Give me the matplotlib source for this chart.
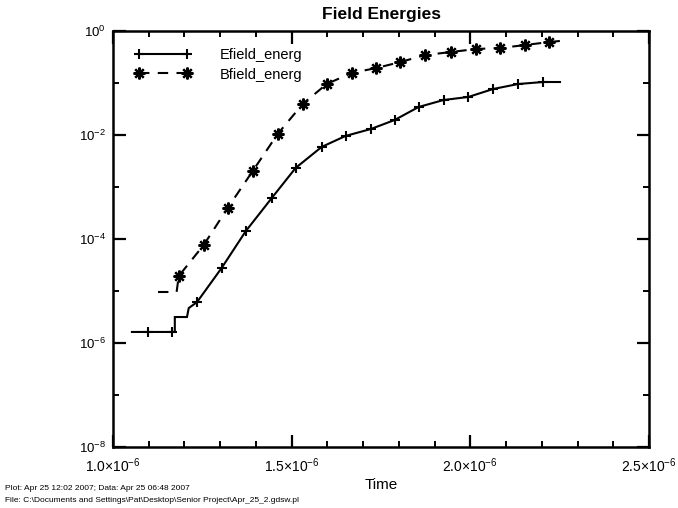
import matplotlib
matplotlib.use("Agg")
import matplotlib.pyplot as plt
from matplotlib.ticker import FixedLocator, NullFormatter
from matplotlib.lines import Line2D
import numpy as np

plt.rcParams['font.family'] = ['Liberation Sans', 'DejaVu Sans']
plt.rcParams['mathtext.default'] = 'regular'

# Efield energy: line vertices (time, energy)
e_line_t = [1.053e-6, 1.173e-6, 1.173e-6, 1.207e-6, 1.212e-6, 1.235e-6, 1.304e-6, 1.372e-6,
            1.444e-6, 1.511e-6, 1.584e-6, 1.651e-6, 1.721e-6, 1.788e-6, 1.855e-6, 1.925e-6,
            1.994e-6, 2.064e-6, 2.134e-6, 2.204e-6, 2.251e-6]
e_line_v = [1.63e-6, 1.63e-6, 3.16e-6, 3.16e-6, 4.7e-6, 6.1e-6, 2.77e-5, 1.43e-4,
            6.1e-4, 2.32e-3, 5.9e-3, 9.6e-3, 1.30e-2, 1.94e-2, 3.45e-2, 4.71e-2,
            5.38e-2, 7.67e-2, 9.57e-2, 0.1045, 0.1045]
# Efield symbols
e_sym_t = [1.098e-6, 1.165e-6, 1.235e-6, 1.304e-6, 1.372e-6, 1.444e-6, 1.511e-6, 1.584e-6,
           1.651e-6, 1.721e-6, 1.788e-6, 1.855e-6, 1.925e-6, 1.994e-6, 2.064e-6, 2.134e-6,
           2.204e-6]
e_sym_v = [1.63e-6, 1.63e-6, 6.1e-6, 2.77e-5, 1.43e-4, 6.1e-4, 2.32e-3, 5.9e-3,
           9.6e-3, 1.30e-2, 1.94e-2, 3.45e-2, 4.71e-2, 5.38e-2, 7.67e-2, 9.57e-2,
           0.1045]

# Bfield energy
b_line_t = [1.126e-6, 1.178e-6, 1.184e-6, 1.254e-6, 1.321e-6, 1.391e-6, 1.461e-6, 1.531e-6,
            1.598e-6, 1.668e-6, 1.737e-6, 1.804e-6, 1.874e-6, 1.947e-6, 2.017e-6, 2.084e-6,
            2.154e-6, 2.221e-6, 2.251e-6]
b_line_v = [9.57e-6, 9.57e-6, 1.94e-5, 7.7e-5, 3.95e-4, 2.03e-3, 1.05e-2, 3.95e-2,
            9.57e-2, 0.156, 0.194, 0.253, 0.345, 0.395, 0.451, 0.471,
            0.538, 0.614, 0.643]
b_sym_t = [1.184e-6, 1.254e-6, 1.321e-6, 1.391e-6, 1.461e-6, 1.531e-6, 1.598e-6, 1.668e-6,
           1.737e-6, 1.804e-6, 1.874e-6, 1.947e-6, 2.017e-6, 2.084e-6, 2.154e-6, 2.221e-6]
b_sym_v = [1.94e-5, 7.7e-5, 3.95e-4, 2.03e-3, 1.05e-2, 3.95e-2, 9.57e-2, 0.156,
           0.194, 0.253, 0.345, 0.395, 0.451, 0.471, 0.538, 0.614]

x_ticks = [1.0e-6, 1.5e-6, 2.0e-6, 2.5e-6]
x_labels = ['1.0×10$^{-6}$', '1.5×10$^{-6}$', '2.0×10$^{-6}$', '2.5×10$^{-6}$']
y_ticks = [1e-8, 1e-6, 1e-4, 1e-2, 1e0]
y_labels = ['10$^{-8}$', '10$^{-6}$', '10$^{-4}$', '10$^{-2}$', '10$^{0}$']

fig = plt.figure(figsize=(6.78, 5.08), dpi=100)
ax = fig.add_axes([113/678, 1-447/508, (649-113)/678, (447-31)/508])

lw = 1.5
p_ms, p_mew = 7.5, 1.5
a_ms, a_mew = 8.5, 1.6
ax.plot(e_line_t, e_line_v, color='black', lw=lw, solid_joinstyle='miter')
ax.plot(e_sym_t, e_sym_v, ls='none', marker='+', ms=p_ms, mew=p_mew, color='black')
ax.plot(b_line_t, b_line_v, color='black', lw=lw, dashes=(5, 4))
ax.plot(b_sym_t, b_sym_v, ls='none', marker=(8, 2, 0), ms=a_ms, mew=a_mew, color='black')

h1 = Line2D([0, 1], [0, 0], color='black', lw=lw, marker='+', ms=p_ms, mew=p_mew)
h2 = Line2D([0, 1], [0, 0], color='black', lw=lw, dashes=(5, 4), marker=(8, 2, 0), ms=a_ms, mew=a_mew)
ax.legend([h1, h2], ['Efield_energ', 'Bfield_energ'], loc='upper left', frameon=False,
          numpoints=2, handlelength=3.9, handletextpad=1.9, fontsize=10.5,
          bbox_to_anchor=(0.030, 0.972), borderaxespad=0, labelspacing=0.35)

ax.set_yscale('log')
ax.set_xlim(1.0e-6, 2.5e-6)
ax.set_ylim(1e-8, 1e0)

ax.xaxis.set_major_locator(FixedLocator(x_ticks))
ax.xaxis.set_minor_locator(FixedLocator(np.arange(1.0e-6, 2.5e-6, 0.1e-6)))
ax.set_xticklabels(x_labels)
ax.yaxis.set_major_locator(FixedLocator(y_ticks))
ax.yaxis.set_minor_locator(FixedLocator([1e-7, 1e-5, 1e-3, 1e-1]))
ax.yaxis.set_minor_formatter(NullFormatter())
ax.set_yticklabels(y_labels)

ax.tick_params(which='major', direction='in', length=9, width=1.6, top=True, right=True)
ax.tick_params(which='minor', direction='in', length=4, width=1.4, top=True, right=True)
ax.tick_params(axis='x', which='major', labelsize=10, pad=7)
ax.tick_params(axis='y', which='major', labelsize=9.5, pad=5)
for s in ax.spines.values():
    s.set_linewidth(1.8)

ax.set_title('Field Energies', fontsize=12.5, fontweight='bold', pad=9)
ax.set_xlabel('Time', fontsize=11, labelpad=2)

fig.text(5/678, 1-489/508, 'Plot: Apr 25 12:02 2007; Data: Apr 25 06:48 2007', fontsize=6, va='center')
fig.text(5/678, 1-500/508, 'File: C:\\Documents and Settings\\Pat\\Desktop\\Senior Project\\Apr_25_2.gdsw.pl',
         fontsize=6, va='center')

fig.savefig('out.png', dpi=100)
